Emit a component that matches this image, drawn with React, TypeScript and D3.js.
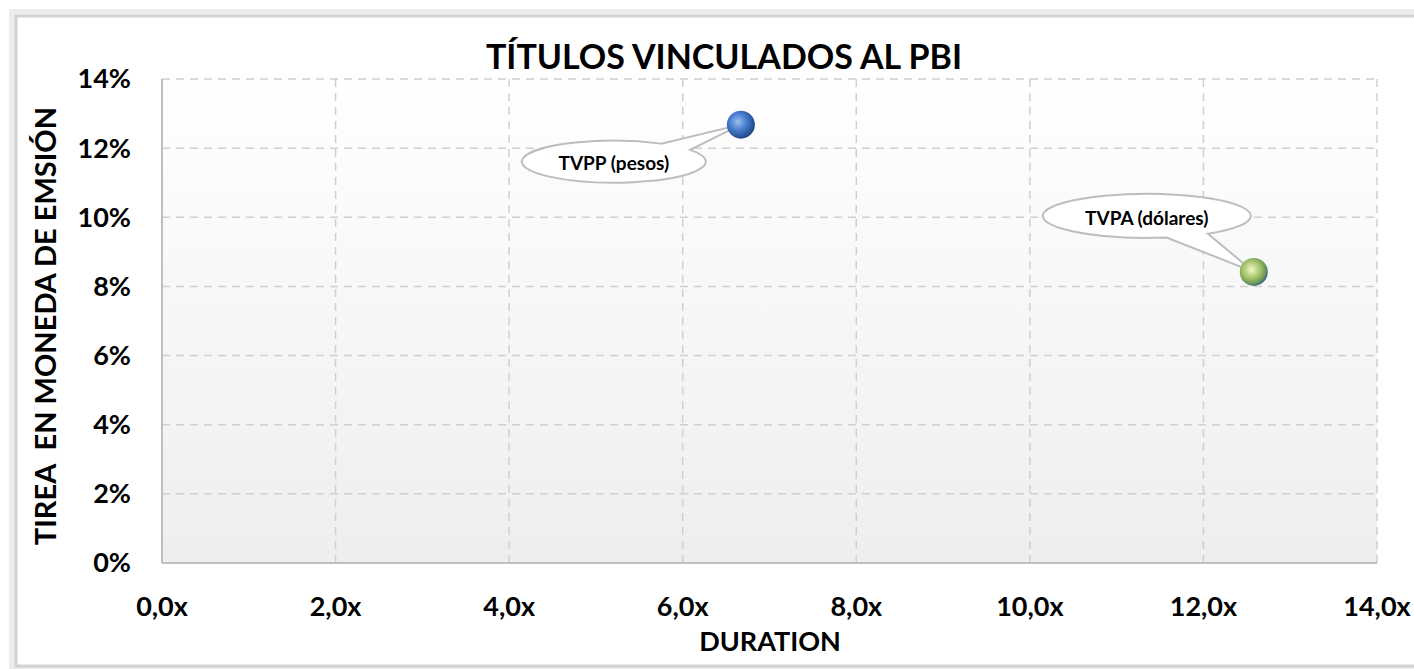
import React, { useEffect, useRef } from 'react';
import * as d3 from 'd3';

// scatter data
const names = ['TVPP (pesos)', 'TVPA (dólares)'];
const duration = [6.67, 12.58];
const tirea = [0.1268, 0.0842];
// callout bubble placement relative to its point (pixels), size and pointer angles (deg)
const calloutDx = [-127, -107];
const calloutDy = [37, -56];
const calloutRx = [92, 104];
const calloutRy = [21, 22];
const pointerAngles = [[-59, -34], [54, 79]];
const gradIds = ['ballBlue', 'ballGreen'];

const xTicks = [0, 2, 4, 6, 8, 10, 12, 14];
const yTicks = [0, 0.02, 0.04, 0.06, 0.08, 0.1, 0.12, 0.14];

const W = 1414;
const H = 669;
const FONT = 'Lato, "Open Sans", sans-serif';

export default function App() {
  const ref = useRef<SVGSVGElement>(null);

  useEffect(() => {
    const svg = d3.select(ref.current);
    svg.selectAll('*').remove();

    const m = { left: 162, right: 1377, top: 79, bottom: 563 };
    const x = d3.scaleLinear().domain([0, 14]).range([m.left, m.right]);
    const y = d3.scaleLinear().domain([0, 0.14]).range([m.bottom, m.top]);

    const defs = svg.append('defs');
    const bg = defs.append('linearGradient').attr('id', 'plotBg')
      .attr('x1', 0).attr('y1', 0).attr('x2', 0).attr('y2', 1);
    bg.append('stop').attr('offset', '0%').attr('stop-color', '#ffffff');
    bg.append('stop').attr('offset', '100%').attr('stop-color', '#eeeeee');

    const blue = defs.append('radialGradient').attr('id', 'ballBlue')
      .attr('cx', '40%').attr('cy', '40%').attr('r', '65%');
    blue.append('stop').attr('offset', '0%').attr('stop-color', '#9cc0f0');
    blue.append('stop').attr('offset', '45%').attr('stop-color', '#4a7fcf');
    blue.append('stop').attr('offset', '100%').attr('stop-color', '#1b3f80');

    const green = defs.append('radialGradient').attr('id', 'ballGreen')
      .attr('cx', '42%').attr('cy', '42%').attr('r', '62%');
    green.append('stop').attr('offset', '0%').attr('stop-color', '#f2f7c8');
    green.append('stop').attr('offset', '50%').attr('stop-color', '#a6c46a');
    green.append('stop').attr('offset', '80%').attr('stop-color', '#6f9a5a');
    green.append('stop').attr('offset', '100%').attr('stop-color', '#2b5b8c');

    // outer chart frame with a soft edge
    svg.append('rect').attr('x', 13).attr('y', 13).attr('width', W + 20).attr('height', 656)
      .attr('fill', 'none').attr('stroke', '#ececec').attr('stroke-width', 8);
    svg.append('rect').attr('x', 16).attr('y', 16).attr('width', W + 20).attr('height', 650)
      .attr('fill', '#ffffff').attr('stroke', '#d2d2d2').attr('stroke-width', 3);

    // plot area
    svg.append('rect').attr('x', m.left).attr('y', m.top)
      .attr('width', m.right - m.left).attr('height', m.bottom - m.top)
      .attr('fill', 'url(#plotBg)');

    const grid = svg.append('g').attr('stroke', '#d0d0d0').attr('stroke-width', 1.5)
      .attr('stroke-dasharray', '8,6');
    grid.selectAll('line.h').data(yTicks.slice(1)).join('line')
      .attr('class', 'h')
      .attr('x1', m.left).attr('x2', m.right)
      .attr('y1', d => y(d)).attr('y2', d => y(d));
    grid.selectAll('line.v').data(xTicks.slice(1)).join('line')
      .attr('class', 'v')
      .attr('y1', m.top).attr('y2', m.bottom)
      .attr('x1', d => x(d)).attr('x2', d => x(d));

    // axis lines
    svg.append('line').attr('x1', m.left).attr('x2', m.left).attr('y1', m.top).attr('y2', m.bottom)
      .attr('stroke', '#bfbfbf').attr('stroke-width', 2);
    svg.append('line').attr('x1', m.left).attr('x2', m.right).attr('y1', m.bottom).attr('y2', m.bottom)
      .attr('stroke', '#bfbfbf').attr('stroke-width', 2);

    // tick labels
    const fmtY = d3.format('.0%');
    svg.append('g').selectAll('text').data(yTicks).join('text')
      .attr('x', 131).attr('y', d => y(d)).attr('dy', '0.35em')
      .attr('text-anchor', 'end')
      .attr('font-family', FONT).attr('font-weight', 700).attr('font-size', 27)
      .attr('fill', '#000')
      .text(d => fmtY(d));
    svg.append('g').selectAll('text').data(xTicks).join('text')
      .attr('x', d => x(d)).attr('y', 607).attr('dy', '0.35em')
      .attr('text-anchor', 'middle')
      .attr('font-family', FONT).attr('font-weight', 700).attr('font-size', 27)
      .attr('fill', '#000')
      .text(d => d.toFixed(1).replace('.', ',') + 'x');

    // titles
    svg.append('text').attr('x', 724).attr('y', 69).attr('text-anchor', 'middle')
      .attr('font-family', FONT).attr('font-weight', 700).attr('font-size', 34)
      .text('TÍTULOS VINCULADOS AL PBI');
    svg.append('text').attr('x', 770).attr('y', 642).attr('dy', '0.35em').attr('text-anchor', 'middle')
      .attr('font-family', FONT).attr('font-weight', 700).attr('font-size', 27)
      .text('DURATION');
    svg.append('text')
      .attr('transform', 'translate(46,326) rotate(-90)')
      .attr('dy', '0.35em').attr('text-anchor', 'middle')
      .attr('font-family', FONT).attr('font-weight', 700).attr('font-size', 29)
      .attr('xml:space', 'preserve')
      .text('TIREA  EN MONEDA DE EMSIÓN');

    // callouts
    const rad = (a: number) => (a * Math.PI) / 180;
    names.forEach((name, i) => {
      const px = x(duration[i]);
      const py = y(tirea[i]);
      const cx = px + calloutDx[i];
      const cy = py + calloutDy[i];
      const rx = calloutRx[i];
      const ry = calloutRy[i];
      const [a1, a2] = pointerAngles[i];
      const p2 = [cx + rx * Math.cos(rad(a2)), cy + ry * Math.sin(rad(a2))];
      const p1 = [cx + rx * Math.cos(rad(a1)), cy + ry * Math.sin(rad(a1))];
      const path = `M${p2[0]},${p2[1]} A${rx},${ry} 0 1 1 ${p1[0]},${p1[1]} L${px},${py} Z`;
      svg.append('path').attr('d', path)
        .attr('fill', '#ffffff').attr('stroke', '#bdbdbd').attr('stroke-width', 2);
      svg.append('text').attr('x', cx).attr('y', cy + 2).attr('dy', '0.35em')
        .attr('text-anchor', 'middle')
        .attr('font-family', FONT).attr('font-weight', 700).attr('font-size', 19)
        .text(name);
    });

    // points
    svg.append('g').selectAll('circle').data(names).join('circle')
      .attr('cx', (_, i) => x(duration[i]))
      .attr('cy', (_, i) => y(tirea[i]))
      .attr('r', 14)
      .attr('fill', (_, i) => `url(#${gradIds[i]})`);
  }, []);

  return (
    <div style={{ position: 'absolute', left: 0, top: 0 }}>
      <svg ref={ref} width={W} height={H} style={{ display: 'block' }} />
    </div>
  );
}
